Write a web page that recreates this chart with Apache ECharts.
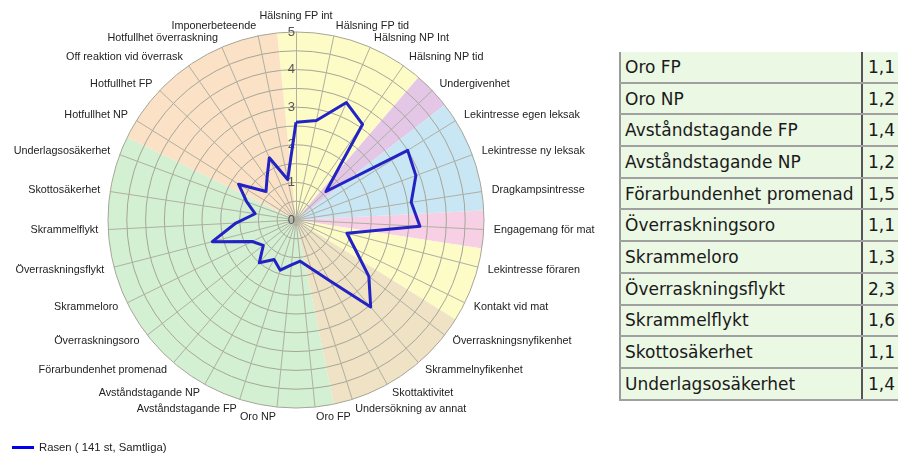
<!DOCTYPE html>
<html>
<head>
<meta charset="utf-8">
<script src="https://cdn.jsdelivr.net/npm/echarts@6/dist/echarts.min.js"></script>
<style>
  html, body { margin: 0; padding: 0; background: #fff; overflow: hidden; }
  #chart { position: absolute; left: 0; top: 0; width: 610px; height: 455px; }
  #tbl { position: absolute; left: 619px; top: 52px; width: 340px; border-collapse: collapse; table-layout: fixed;
         font-family: "DejaVu Sans", Verdana, sans-serif; font-size: 17px; color: #1a1a1a;
         border-left: 2px solid #9a9a9a; }
  #tbl td { background: #ebf8e4; height: 29.7px; padding: 0 0 0 4px; border-bottom: 2px solid #a0a0a0;
            white-space: nowrap; overflow: hidden; }
  #tbl td.n { width: 236px; }
  #tbl td.v { border-left: 2px solid #555; padding-left: 5px; }
</style>
</head>
<body>
<div id="chart"></div>
<table id="tbl"></table>
<script>
// kategorier medurs från toppen
var categories = [
  "Hälsning FP int", "Hälsning FP tid", "Hälsning NP Int", "Hälsning NP tid",
  "Undergivenhet",
  "Lekintresse egen leksak", "Lekintresse ny leksak", "Dragkampsintresse",
  "Engagemang för mat",
  "Lekintresse föraren", "Kontakt vid mat",
  "Överraskningsnyfikenhet", "Skrammelnyfikenhet", "Skottaktivitet", "Undersökning av annat",
  "Oro FP", "Oro NP", "Avståndstagande FP", "Avståndstagande NP", "Förarbundenhet promenad",
  "Överraskningsoro", "Skrammeloro", "Överraskningsflykt", "Skrammelflykt", "Skottosäkerhet",
  "Underlagsosäkerhet",
  "Hotfullhet NP", "Hotfullhet FP", "Off reaktion vid överrask", "Hotfullhet överraskning",
  "Imponerbeteende"
];
var values = [
  2.6, 2.7, 3.4, 3.1,
  1.1,
  3.5, 3.4, 3.1,
  3.3,
  1.4, 1.75,
  2.45, 3.05, 1.85, 1.35,
  1.1, 1.2, 1.4, 1.2, 1.5,
  1.1, 1.3, 2.3, 1.6, 1.1,
  1.4,
  1.8, 1.1, 1.35, 1.8,
  1.1
];
var seriesName = "Rasen ( 141 st, Samtliga)";
// färgade sektorer: antal kategorier per grupp
var groupSizes = [4, 1, 3, 1, 2, 4, 11, 5];
var groupColors = ["#fdfbc6", "#e4c6e6", "#c9e6f4", "#f7d0e6", "#fdfbc6", "#efe2c5", "#d3f0d3", "#fbe1c6"];
// tabellen till höger
var tableStart = 15, tableEnd = 26;

var n = categories.length;
var R = 188;
var cx = 296, cy = 220;

// echarts radar går moturs, vänd ordningen
var order = [0];
for (var i = n - 1; i >= 1; i--) order.push(i);

var indicator = order.map(function (idx, k) {
  var ind = { name: categories[idx], min: 0, max: 5 };
  if (k === 0) ind.axisLabel = { show: true };
  return ind;
});

var myChart = echarts.init(document.getElementById('chart'));
myChart.setOption({
  animation: false,
  legend: {
    left: 7, top: 437,
    icon: 'rect', itemWidth: 22, itemHeight: 3, itemGap: 6,
    textStyle: { fontFamily: 'Liberation Sans', fontSize: 11.3, color: '#222' },
    data: [seriesName]
  },
  radar: {
    center: [cx, cy],
    radius: R,
    startAngle: 90,
    shape: 'circle',
    splitNumber: 10,
    z: 1,
    axisName: { color: '#222', fontFamily: 'Liberation Sans', fontSize: 10.8 },
    nameGap: 10,
    splitArea: { show: false },
    splitLine: { lineStyle: { color: '#a6a698', width: 1 } },
    axisLine: { lineStyle: { color: '#b0b0a2', width: 1 } },
    axisLabel: {
      show: false, color: '#555', fontFamily: 'Liberation Sans', fontSize: 13, margin: 1,
      formatter: function (v) { return Number.isInteger(v) ? v : ''; }
    },
    indicator: indicator
  },
  series: [
    {
      type: 'pie',
      silent: true,
      z: 0,
      center: [cx, cy],
      radius: [0, R],
      startAngle: 90 + 180 / n,
      label: { show: false },
      labelLine: { show: false },
      itemStyle: { borderWidth: 0 },
      data: groupSizes.map(function (s, i) { return { value: s, itemStyle: { color: groupColors[i] } }; })
    },
    {
      type: 'radar',
      name: seriesName,
      z: 5,
      symbol: 'none',
      lineStyle: { color: '#2323c4', width: 3 },
      itemStyle: { color: '#0000ee' },
      data: [{ name: seriesName, value: order.map(function (idx) { return values[idx]; }) }]
    }
  ]
});

var tbl = document.getElementById('tbl');
for (var r = tableStart; r < tableEnd; r++) {
  var tr = document.createElement('tr');
  var td1 = document.createElement('td');
  td1.className = 'n';
  td1.textContent = categories[r];
  var td2 = document.createElement('td');
  td2.className = 'v';
  td2.textContent = values[r].toFixed(1).replace('.', ',');
  tr.appendChild(td1);
  tr.appendChild(td2);
  tbl.appendChild(tr);
}
</script>
</body>
</html>
